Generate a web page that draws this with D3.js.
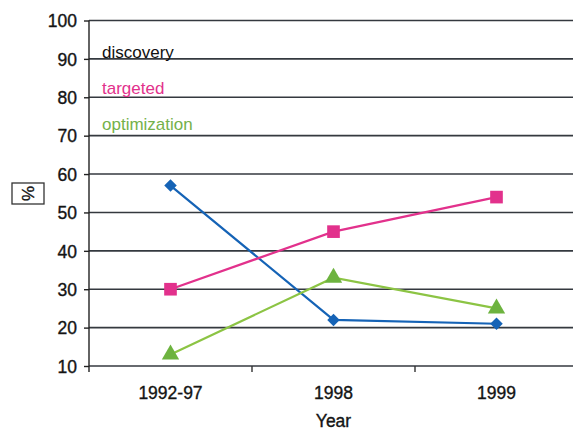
<!DOCTYPE html>
<html>
<head>
<meta charset="utf-8">
<script src="https://cdn.jsdelivr.net/npm/d3@7/dist/d3.min.js"></script>
<style>
  html, body { margin: 0; padding: 0; background: #fff; }
  svg { display: block; font-family: "Liberation Sans", Arial, sans-serif; }
  .heavy { stroke: currentColor; stroke-width: 0.35; }
</style>
</head>
<body>
<svg id="chart" width="573" height="432"></svg>
<script>
// Share of compounds by approach, per period
const categories = ["1992-97", "1998", "1999"];
const discovery = [57, 22, 21];
const targeted = [30, 45, 54];
const optimization = [13, 33, 25];
const yTicks = [10, 20, 30, 40, 50, 60, 70, 80, 90, 100];
const seriesNames = ["discovery", "targeted", "optimization"];

const series = [
  { name: seriesNames[0], values: discovery, color: "#1563b6", label: "#111", marker: "diamond" },
  { name: seriesNames[1], values: targeted, color: "#e2318c", label: "#e2318c", marker: "square" },
  { name: seriesNames[2], values: optimization, color: "#8cc444", label: "#74b14a", marker: "triangle" }
];

const svg = d3.select("#chart");
const plotLeft = 89, plotTop = 20.5, plotBottom = 366;
const bandW = 163;
const ink = "#141414";

const x = d3.scaleBand().domain(categories).range([plotLeft, plotLeft + bandW * categories.length]).padding(0);
const y = d3.scaleLinear().domain([10, 100]).range([plotBottom, plotTop]);

// horizontal gridlines across the full width
svg.append("g").selectAll("line").data(yTicks).join("line")
  .attr("x1", plotLeft).attr("x2", 573)
  .attr("y1", d => y(d)).attr("y2", d => y(d))
  .attr("stroke", "#34393f").attr("stroke-width", 1.6);

// y axis
const yAxis = d3.axisLeft(y).tickValues(yTicks).tickSize(5).tickPadding(7);
const gy = svg.append("g").attr("transform", `translate(${plotLeft},0)`).call(yAxis);
gy.select(".domain").remove();
gy.selectAll(".tick line").attr("stroke", "#222").attr("stroke-width", 1.4);
gy.selectAll(".tick text").attr("font-size", 17.5).attr("fill", ink).style("color", ink)
  .attr("class", "heavy")
  .attr("font-family", "Liberation Sans, Arial, sans-serif").attr("dy", "0.36em");
svg.append("line").attr("x1", plotLeft).attr("x2", plotLeft).attr("y1", plotTop).attr("y2", plotBottom + 6)
  .attr("stroke", "#222").attr("stroke-width", 1.4);

// x axis ticks between categories
const gx = svg.append("g").attr("transform", `translate(0,${plotBottom})`);
gx.selectAll("line").data(categories.slice(1)).join("line")
  .attr("x1", d => x(d)).attr("x2", d => x(d))
  .attr("y1", 0).attr("y2", 6)
  .attr("stroke", "#333").attr("stroke-width", 1.4);
gx.selectAll("text").data(categories).join("text")
  .attr("x", d => x(d) + x.bandwidth() / 2).attr("y", 33)
  .attr("text-anchor", "middle").attr("font-size", 17.5).attr("fill", ink).style("color", ink)
  .attr("class", "heavy")
  .text(d => d);

svg.append("text").attr("x", x("1998") + x.bandwidth() / 2).attr("y", 427)
  .attr("text-anchor", "middle").attr("font-size", 17.5).attr("fill", ink).style("color", ink)
  .attr("class", "heavy").text("Year");

// y axis title in a box
const boxG = svg.append("g").attr("transform", "translate(28,193.5)");
boxG.append("rect").attr("x", -16).attr("y", -10.5).attr("width", 32).attr("height", 21)
  .attr("fill", "#fff").attr("stroke", "#333").attr("stroke-width", 1.3);
boxG.append("text").attr("transform", "rotate(-90)").attr("text-anchor", "middle")
  .attr("dy", "0.35em").attr("font-size", 17).attr("fill", ink).style("color", ink)
  .attr("class", "heavy").text("%");

// series labels
const labelY = [58, 94, 130];
svg.append("g").selectAll("text").data(series).join("text")
  .attr("x", 102).attr("y", (d, i) => labelY[i])
  .attr("font-size", 17).attr("fill", d => d.label)
  .text(d => d.name);

// lines and markers
const cx = d => x(d) + x.bandwidth() / 2;
const line = d3.line().x((v, i) => cx(categories[i])).y(v => y(v));
const symbolType = { diamond: d3.symbolSquare, square: d3.symbolSquare, triangle: d3.symbolTriangle };
const symbolSize = { diamond: 78, square: 160, triangle: 130 };
const symbolRotate = { diamond: 45, square: 0, triangle: 0 };

series.forEach(s => {
  svg.append("path").datum(s.values).attr("d", line)
    .attr("fill", "none").attr("stroke", s.color).attr("stroke-width", 2.2);
  svg.append("g").selectAll("path").data(s.values).join("path")
    .attr("transform", (v, i) => `translate(${cx(categories[i])},${y(v)}) rotate(${symbolRotate[s.marker]})`)
    .attr("d", d3.symbol().type(symbolType[s.marker]).size(symbolSize[s.marker]))
    .attr("fill", s.marker === "triangle" ? "#6db33f" : s.color);
});
</script>
</body>
</html>
